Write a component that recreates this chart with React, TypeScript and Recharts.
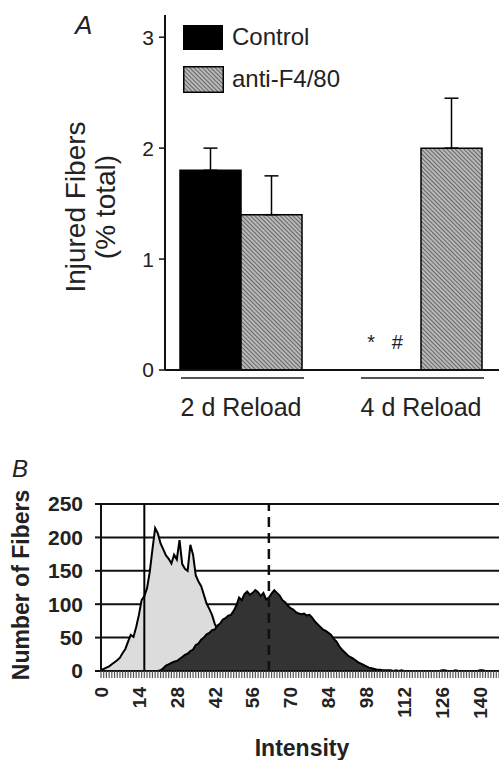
import React from 'react';
import {
  BarChart, Bar, XAxis, YAxis, ErrorBar,
  AreaChart, Area, CartesianGrid, ReferenceLine,
} from 'recharts';

// ---------- Panel A data ----------
const groups = ['2 d Reload', '4 d Reload'];
const controlValues = [1.8, 0];
const controlErrors = [0.2, 0];
const antiValues = [1.4, 2.0];
const antiErrors = [0.35, 0.45];
const significance = ['', '*   #'];
const yTicksA = [0, 1, 2, 3];
const seriesNamesA = ['Control', 'anti-F4/80'];

// ---------- Panel B data ----------
const lightCounts = [
  2, 3, 5, 7, 10, 13, 16, 20, 27, 33,
  44, 54, 51, 66, 84, 106, 112, 124, 148, 182,
  214, 206, 191, 182, 173, 168, 161, 174, 167, 196,
  160, 153, 150, 189, 174, 143, 134, 127, 114, 101,
  93, 84, 71, 62, 55, 48, 41, 35, 29, 24,
  19, 15, 11, 8, 6, 4, 3, 2, 1, 1,
  0, 0, 0, 0, 0, 0, 0, 0, 0, 0,
  0, 0, 0, 0, 0, 0, 0, 0, 0, 0,
  0, 0, 0, 0, 0, 0, 0, 0, 0, 0,
  0, 0, 0, 0, 0, 0, 0, 0, 0, 0,
  0, 0, 0, 0, 0, 0, 0, 0, 0, 0,
  0, 0, 0, 0, 0, 0, 0, 0, 0, 0,
  0, 0, 0, 0, 0, 0, 0, 0, 0, 0,
  0, 0, 0, 0, 0, 0, 0, 0, 0, 0,
  0, 0, 0, 0, 0, 0, 0, 0,
];
const darkCounts = [
  0, 0, 0, 0, 0, 0, 0, 0, 0, 0,
  0, 0, 0, 0, 0, 0, 0, 0, 0, 0,
  0, 0, 1, 4, 8, 10, 12, 14, 15, 18,
  21, 24, 26, 30, 32, 39, 41, 47, 50, 55,
  57, 61, 62, 68, 71, 77, 79, 83, 84, 90,
  98, 110, 106, 115, 119, 114, 117, 121, 118, 112,
  117, 107, 110, 116, 121, 117, 113, 106, 103, 98,
  94, 92, 88, 86, 85, 86, 83, 84, 80, 74,
  70, 66, 62, 60, 57, 54, 48, 44, 37, 32,
  28, 24, 21, 19, 16, 13, 11, 9, 7, 5,
  4, 3, 2, 2, 1, 1, 1, 1, 0, 1,
  0, 1, 0, 0, 0, 0, 0, 0, 0, 0,
  0, 0, 0, 0, 0, 0, 1, 1, 0, 0,
  0, 1, 0, 0, 0, 0, 0, 0, 0, 0,
  1, 1, 0, 0, 0, 0, 0, 0,
];
const xTickLabelsB = [0, 14, 28, 42, 56, 70, 84, 98, 112, 126, 140];
const yTicksB = [0, 50, 100, 150, 200, 250];
const solidThreshold = 16;
const dashedThreshold = 62;

const FONT = 'Liberation Sans, Arial, Helvetica, sans-serif';

const dataA = groups.map((g, i) => ({
  group: g,
  control: controlValues[i],
  controlErr: [0, controlErrors[i]],
  anti: antiValues[i],
  antiErr: [0, antiErrors[i]],
}));

const dataB = lightCounts.map((v, i) => ({ intensity: i, light: v, dark: darkCounts[i] }));
const allBins = dataB.map((d) => d.intensity);

const hatchPattern = (id: string) => (
  <pattern id={id} width="3" height="3" patternUnits="userSpaceOnUse" patternTransform="rotate(-45)">
    <rect width="3" height="3" fill="#b8b8b8" />
    <line x1="0" y1="0" x2="0" y2="3" stroke="#3a3a3a" strokeWidth="1.3" />
  </pattern>
);

const GroupTick = (props: any) => {
  const { x, y, payload, index } = props;
  const mark = significance[index ?? payload.index] || '';
  return (
    <g>
      <line x1={x - 60} x2={x + 63} y1={y + 8} y2={y + 8} stroke="#555" strokeWidth={2} />
      <text x={x} y={y + 46} textAnchor="middle" fontSize={25} fill="#222" fontFamily={FONT}>
        {payload.value}
      </text>
      {mark && (
        <text x={x - 36} y={y - 21} textAnchor="middle" fontSize={20} fill="#222" fontFamily={FONT} style={{ whiteSpace: 'pre' }}>
          {mark}
        </text>
      )}
    </g>
  );
};

const YLabelA = () => (
  <g fill="#222" fontFamily={FONT} fontSize={28}>
    <text x={75} y={207} textAnchor="middle" dominantBaseline="central" transform="rotate(-90 75 207)">
      Injured Fibers
    </text>
    <text x={105} y={207} textAnchor="middle" dominantBaseline="central" transform="rotate(-90 105 207)">
      (% total)
    </text>
  </g>
);

const LegendA = () => (
  <div style={{ position: 'absolute', left: 183, top: 24, fontFamily: FONT, fontSize: 24, color: '#222' }}>
    <div style={{ display: 'flex', alignItems: 'center', height: 26 }}>
      <div style={{ width: 40, height: 25, background: '#000' }} />
      <span style={{ marginLeft: 9 }}>{seriesNamesA[0]}</span>
    </div>
    <div style={{ display: 'flex', alignItems: 'center', height: 26, marginTop: 16 }}>
      <svg width={41} height={27}>
        <defs>{hatchPattern('hatchLeg')}</defs>
        <rect x={0.75} y={0.75} width={39.5} height={25.5} fill="url(#hatchLeg)" stroke="#000" strokeWidth={1.5} />
      </svg>
      <span style={{ marginLeft: 8 }}>{seriesNamesA[1]}</span>
    </div>
  </div>
);

const IntensityTick = (props: any) => {
  const { x, y, payload } = props;
  const showLabel = xTickLabelsB.includes(payload.value);
  return (
    <g>
      <line x1={x} x2={x} y1={y} y2={y + 7} stroke="#555" strokeWidth={1.2} />
      {showLabel && (
        <text
          x={x}
          y={y + 16}
          dy="0.36em"
          textAnchor="end"
          fontSize={19}
          fontWeight="bold"
          fill="#222"
          fontFamily={FONT}
          transform={`rotate(-90 ${x} ${y + 16})`}
        >
          {payload.value}
        </text>
      )}
    </g>
  );
};

const IntensityLabel = () => (
  <text x={302} y={276} textAnchor="middle" fontSize={23} fontWeight="bold" fill="#222" fontFamily={FONT}>
    Intensity
  </text>
);

const YLabelB = () => (
  <text x={21} y={105} textAnchor="middle" dominantBaseline="central" fontSize={23} fontWeight="bold" fill="#222" fontFamily={FONT} transform="rotate(-90 21 105)">
    Number of Fibers
  </text>
);

export default function App() {
  return (
    <div style={{ position: 'absolute', left: 0, top: 0, width: 499, height: 760, background: '#fff', overflow: 'hidden' }}>
      <div style={{ position: 'absolute', left: 0, top: 0 }}>
        <BarChart width={499} height={430} data={dataA} margin={{ top: 15, right: 0, left: 0, bottom: 0 }} barGap={0} barSize={61}>
          <defs>{hatchPattern('hatch')}</defs>
          <XAxis
            dataKey="group"
            height={60}
            padding={{ left: -14, right: -12 }}
            axisLine={{ stroke: '#111', strokeWidth: 2 }}
            tickLine={false}
            tickSize={0}
            tickMargin={0}
            interval={0}
            tick={<GroupTick />}
          />
          <YAxis
            width={165}
            domain={[0, 3.2]}
            ticks={yTicksA}
            allowDataOverflow
            axisLine={{ stroke: '#111', strokeWidth: 2 }}
            tickLine={{ stroke: '#111', strokeWidth: 1.5 }}
            tickSize={6}
            tickMargin={5}
            tick={{ fill: '#222', fontSize: 21, fontFamily: FONT }}
            label={{ content: <YLabelA /> }}
          />
          <Bar dataKey="control" name={seriesNamesA[0]} fill="#000" stroke="#000" strokeWidth={1.5} isAnimationActive={false}>
            <ErrorBar dataKey="controlErr" width={7} stroke="#000" strokeWidth={1.5} direction="y" />
          </Bar>
          <Bar dataKey="anti" name={seriesNamesA[1]} fill="url(#hatch)" stroke="#000" strokeWidth={1.5} isAnimationActive={false}>
            <ErrorBar dataKey="antiErr" width={7} stroke="#000" strokeWidth={1.5} direction="y" />
          </Bar>
        </BarChart>
      </div>
      <LegendA />
      <div style={{ position: 'absolute', left: 75, top: 10, fontFamily: FONT, fontStyle: 'italic', fontSize: 26, color: '#222' }}>A</div>

      <div style={{ position: 'absolute', left: 0, top: 480 }}>
        <AreaChart width={499} height={280} data={dataB} margin={{ top: 24, right: 0, left: 0, bottom: 0 }}>
          <CartesianGrid vertical={false} stroke="#111" strokeWidth={2} />
          <XAxis
            dataKey="intensity"
            type="number"
            domain={[0, 147]}
            ticks={allBins}
            interval={0}
            height={89}
            tickLine={false}
            tickSize={0}
            tickMargin={0}
            axisLine={{ stroke: '#111', strokeWidth: 2 }}
            tick={<IntensityTick />}
            label={{ content: <IntensityLabel /> }}
          />
          <YAxis
            width={101}
            domain={[0, 250]}
            ticks={yTicksB}
            axisLine={{ stroke: '#111', strokeWidth: 2 }}
            tickLine={{ stroke: '#111', strokeWidth: 2 }}
            tickSize={6}
            tickMargin={12}
            tick={{ fill: '#222', fontSize: 21, fontWeight: 'bold', fontFamily: FONT }}
            label={{ content: <YLabelB /> }}
          />
          <Area type="linear" dataKey="light" fill="#dcdcdc" fillOpacity={1} stroke="#000" strokeWidth={2} isAnimationActive={false} />
          <Area type="linear" dataKey="dark" fill="#333" fillOpacity={1} stroke="#000" strokeWidth={2} isAnimationActive={false} />
          <ReferenceLine x={solidThreshold} stroke="#000" strokeWidth={2} />
          <ReferenceLine x={dashedThreshold} stroke="#111" strokeWidth={2.5} strokeDasharray="10 6" />
        </AreaChart>
      </div>
      <div style={{ position: 'absolute', left: 12, top: 455, fontFamily: FONT, fontStyle: 'italic', fontSize: 24, color: '#222' }}>B</div>
    </div>
  );
}
